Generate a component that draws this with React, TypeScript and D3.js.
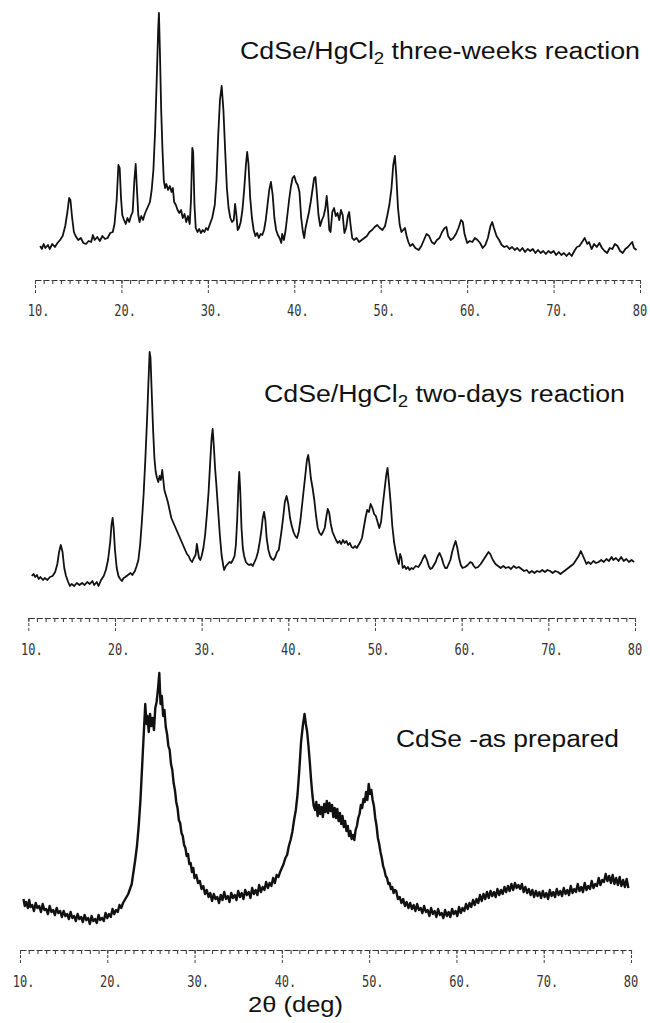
import React, { useRef, useEffect } from "react";
import * as d3 from "d3";

// 2-theta (deg) vs. counts (a.u.)
const threeWeeks: [number, number][] = [
  [10.6, 14], [10.8, 11], [11.0, 16], [11.2, 12], [11.5, 15], [11.7, 11], [12.0, 16], [12.3, 13], [12.6, 17], [12.9, 20],
  [13.2, 24], [13.5, 34], [13.75, 48], [13.95, 62], [14.1, 60], [14.3, 42], [14.5, 28], [14.7, 24], [15.0, 20], [15.3, 22],
  [15.6, 17], [15.9, 16], [16.2, 19], [16.5, 18], [16.7, 25], [16.9, 20], [17.2, 23], [17.5, 19], [17.8, 24], [18.1, 21],
  [18.4, 22], [18.7, 27], [19.0, 28], [19.2, 36], [19.45, 60], [19.65, 95], [19.8, 92], [19.95, 62], [20.1, 45], [20.3, 40],
  [20.5, 36], [20.7, 42], [20.9, 38], [21.1, 44], [21.3, 48], [21.5, 80], [21.65, 96], [21.8, 70], [21.95, 45], [22.1, 38],
  [22.3, 44], [22.5, 40], [22.7, 46], [22.9, 50], [23.1, 54], [23.3, 58], [23.5, 70], [23.7, 90], [23.9, 130], [24.1, 185],
  [24.25, 230], [24.34, 247], [24.45, 210], [24.6, 150], [24.75, 110], [24.9, 80], [25.05, 72], [25.2, 76], [25.4, 70], [25.6, 74],
  [25.8, 68], [25.95, 72], [26.1, 58], [26.3, 55], [26.5, 50], [26.7, 47], [26.9, 50], [27.1, 42], [27.3, 46], [27.5, 38],
  [27.7, 44], [27.9, 36], [28.05, 60], [28.2, 112], [28.3, 108], [28.45, 55], [28.6, 32], [28.8, 28], [29.0, 31], [29.2, 27],
  [29.4, 30], [29.6, 28], [29.8, 32], [30.0, 30], [30.2, 35], [30.5, 42], [30.8, 55], [31.0, 80], [31.2, 125], [31.4, 160],
  [31.6, 174], [31.8, 150], [32.0, 110], [32.2, 72], [32.4, 52], [32.6, 42], [32.8, 38], [33.0, 40], [33.15, 56], [33.3, 45],
  [33.45, 30], [33.6, 32], [33.8, 38], [34.0, 50], [34.2, 70], [34.4, 95], [34.55, 108], [34.7, 96], [34.9, 62], [35.1, 42],
  [35.3, 30], [35.5, 24], [35.7, 27], [35.9, 22], [36.1, 26], [36.3, 25], [36.5, 30], [36.7, 40], [36.9, 55], [37.1, 70],
  [37.3, 78], [37.5, 65], [37.7, 42], [37.9, 30], [38.1, 25], [38.3, 22], [38.5, 17], [38.6, 26], [38.8, 20], [39.0, 30],
  [39.2, 45], [39.4, 60], [39.6, 73], [39.8, 82], [40.0, 84], [40.2, 78], [40.4, 75], [40.6, 68], [40.8, 42], [41.0, 28],
  [41.15, 22], [41.3, 32], [41.5, 40], [41.7, 48], [41.9, 58], [42.1, 70], [42.3, 82], [42.45, 83], [42.6, 68], [42.8, 45],
  [43.0, 34], [43.2, 40], [43.4, 44], [43.6, 52], [43.75, 64], [43.9, 50], [44.05, 30], [44.2, 28], [44.4, 48], [44.6, 52],
  [44.8, 44], [45.0, 47], [45.2, 40], [45.4, 50], [45.6, 45], [45.8, 27], [46.0, 32], [46.2, 44], [46.35, 48], [46.5, 36],
  [46.7, 22], [46.9, 20], [47.2, 22], [47.5, 18], [47.8, 20], [48.1, 22], [48.4, 24], [48.7, 28], [49.0, 30], [49.3, 33],
  [49.6, 35], [49.9, 32], [50.2, 30], [50.5, 34], [50.75, 44], [51.0, 55], [51.25, 72], [51.45, 95], [51.64, 104], [51.8, 85],
  [52.0, 52], [52.2, 35], [52.4, 28], [52.6, 30], [52.8, 32], [53.0, 24], [53.2, 18], [53.4, 14], [53.7, 16], [54.0, 12],
  [54.4, 10], [54.7, 14], [55.0, 20], [55.3, 26], [55.6, 24], [55.9, 18], [56.2, 16], [56.5, 20], [56.8, 22], [57.1, 28],
  [57.4, 32], [57.6, 33], [57.8, 24], [58.1, 20], [58.4, 22], [58.7, 26], [59.0, 32], [59.3, 40], [59.5, 38], [59.7, 26],
  [60.0, 17], [60.3, 19], [60.6, 18], [60.9, 22], [61.2, 20], [61.5, 17], [61.8, 12], [62.1, 15], [62.4, 22], [62.7, 34],
  [62.9, 38], [63.1, 32], [63.4, 24], [63.7, 20], [64.0, 15], [64.3, 13], [64.6, 14], [64.9, 11], [65.2, 13], [65.5, 10],
  [65.8, 12], [66.1, 9], [66.4, 12], [66.7, 8], [67.0, 11], [67.3, 9], [67.6, 11], [67.9, 7], [68.2, 10], [68.5, 7],
  [68.8, 9], [69.1, 6], [69.4, 9], [69.7, 7], [70.0, 9], [70.3, 5], [70.6, 8], [70.9, 5], [71.2, 7], [71.5, 4],
  [71.8, 7], [72.1, 4], [72.4, 9], [72.7, 13], [73.0, 14], [73.3, 18], [73.6, 22], [73.9, 16], [74.1, 18], [74.4, 11],
  [74.7, 16], [75.0, 13], [75.3, 17], [75.6, 12], [75.9, 9], [76.2, 7], [76.5, 12], [76.8, 11], [77.1, 16], [77.4, 14],
  [77.7, 9], [78.0, 7], [78.3, 11], [78.6, 13], [78.9, 16], [79.1, 18], [79.3, 12], [79.6, 10],
];

const twoDays: [number, number][] = [
  [10.4, 14], [10.6, 16], [10.8, 13], [11.0, 15], [11.2, 11], [11.4, 13], [11.7, 10], [11.9, 12], [12.2, 10], [12.5, 13],
  [12.8, 14], [13.1, 18], [13.35, 26], [13.55, 38], [13.75, 45], [13.95, 38], [14.15, 22], [14.35, 14], [14.6, 8], [14.8, 4],
  [15.0, 6], [15.3, 4], [15.6, 7], [15.9, 5], [16.2, 7], [16.5, 5], [16.8, 8], [17.1, 6], [17.4, 9], [17.6, 5],
  [17.9, 8], [18.1, 4], [18.4, 10], [18.7, 14], [18.95, 20], [19.2, 30], [19.45, 48], [19.6, 65], [19.73, 72], [19.85, 62],
  [20.0, 40], [20.2, 22], [20.4, 14], [20.6, 11], [20.8, 9], [21.0, 12], [21.2, 13], [21.5, 15], [21.8, 17], [22.0, 15],
  [22.3, 19], [22.5, 24], [22.7, 30], [22.9, 45], [23.1, 68], [23.3, 95], [23.5, 130], [23.7, 170], [23.85, 205], [24.0, 238],
  [24.1, 232], [24.25, 195], [24.4, 160], [24.55, 132], [24.7, 118], [24.85, 112], [25.0, 108], [25.15, 114], [25.3, 110], [25.45, 120],
  [25.55, 112], [25.7, 100], [25.9, 94], [26.1, 88], [26.3, 80], [26.5, 72], [26.7, 68], [26.9, 64], [27.1, 60], [27.3, 56],
  [27.5, 52], [27.7, 48], [27.9, 44], [28.1, 40], [28.3, 36], [28.5, 34], [28.7, 30], [28.9, 28], [29.1, 32], [29.3, 35],
  [29.45, 46], [29.55, 40], [29.7, 32], [29.85, 30], [30.0, 34], [30.2, 42], [30.4, 55], [30.6, 75], [30.8, 98], [31.0, 130],
  [31.15, 152], [31.27, 161], [31.4, 145], [31.55, 122], [31.7, 105], [31.9, 80], [32.1, 55], [32.3, 35], [32.5, 24], [32.6, 20],
  [32.8, 24], [33.0, 26], [33.2, 28], [33.4, 27], [33.6, 30], [33.8, 34], [33.95, 45], [34.1, 70], [34.25, 105], [34.34, 118],
  [34.45, 100], [34.6, 62], [34.75, 42], [34.9, 34], [35.1, 28], [35.3, 26], [35.5, 25], [35.7, 26], [35.9, 24], [36.1, 28],
  [36.3, 32], [36.5, 38], [36.7, 48], [36.9, 60], [37.05, 72], [37.2, 78], [37.35, 70], [37.5, 52], [37.7, 40], [37.9, 34],
  [38.1, 31], [38.3, 30], [38.5, 33], [38.7, 38], [38.9, 40], [39.0, 46], [39.2, 58], [39.4, 72], [39.6, 88], [39.8, 94],
  [40.0, 86], [40.2, 72], [40.4, 64], [40.6, 58], [40.8, 54], [41.0, 52], [41.2, 58], [41.4, 70], [41.6, 86], [41.8, 102],
  [42.0, 118], [42.15, 130], [42.3, 135], [42.45, 125], [42.6, 112], [42.8, 102], [43.0, 90], [43.2, 74], [43.4, 62], [43.6, 57],
  [43.8, 55], [44.0, 58], [44.2, 62], [44.4, 74], [44.55, 81], [44.7, 78], [44.9, 66], [45.1, 58], [45.3, 54], [45.5, 50],
  [45.7, 47], [45.9, 49], [46.1, 46], [46.3, 50], [46.5, 47], [46.7, 49], [46.9, 45], [47.1, 47], [47.3, 43], [47.5, 42],
  [47.7, 44], [47.9, 42], [48.1, 45], [48.3, 48], [48.5, 52], [48.7, 62], [48.9, 72], [49.1, 80], [49.3, 78], [49.5, 86],
  [49.7, 82], [49.9, 76], [50.1, 74], [50.3, 68], [50.5, 62], [50.7, 68], [50.9, 85], [51.1, 100], [51.3, 115], [51.45, 122],
  [51.6, 108], [51.8, 88], [52.0, 64], [52.2, 48], [52.4, 38], [52.6, 30], [52.75, 26], [52.9, 36], [53.05, 32], [53.2, 22],
  [53.4, 24], [53.6, 21], [53.8, 23], [54.0, 20], [54.2, 22], [54.4, 21], [54.7, 24], [55.0, 23], [55.3, 27], [55.5, 31],
  [55.75, 35], [56.0, 30], [56.2, 24], [56.4, 21], [56.6, 22], [56.8, 25], [57.0, 28], [57.2, 33], [57.45, 37], [57.7, 32],
  [57.9, 26], [58.1, 22], [58.3, 22], [58.5, 26], [58.7, 30], [58.9, 38], [59.1, 44], [59.3, 49], [59.5, 42], [59.7, 32],
  [59.9, 25], [60.1, 22], [60.4, 23], [60.7, 25], [61.0, 28], [61.2, 27], [61.4, 24], [61.6, 22], [61.9, 23], [62.2, 26],
  [62.5, 30], [62.8, 34], [63.1, 38], [63.3, 36], [63.6, 30], [63.9, 26], [64.2, 24], [64.5, 22], [64.8, 24], [65.1, 22],
  [65.4, 23], [65.7, 21], [66.0, 24], [66.3, 22], [66.6, 23], [66.9, 21], [67.2, 19], [67.5, 20], [67.8, 17], [68.1, 19],
  [68.4, 17], [68.7, 19], [69.0, 18], [69.3, 20], [69.6, 18], [69.9, 20], [70.2, 19], [70.5, 17], [70.8, 19], [71.1, 18],
  [71.4, 16], [71.7, 18], [72.0, 20], [72.3, 22], [72.6, 24], [72.9, 26], [73.2, 30], [73.5, 34], [73.75, 39], [74.0, 34],
  [74.2, 30], [74.4, 26], [74.6, 28], [74.9, 26], [75.2, 29], [75.5, 27], [75.8, 28], [76.1, 30], [76.4, 28], [76.7, 31],
  [77.0, 29], [77.3, 33], [77.5, 30], [77.8, 32], [78.1, 29], [78.4, 33], [78.7, 29], [79.0, 31], [79.3, 28], [79.6, 30],
  [79.9, 28],
];

const asPrepared: [number, number][] = [
  [10.4, 31], [10.55, 24], [10.7, 28], [10.9, 22], [11.05, 30], [11.2, 23], [11.4, 25], [11.6, 19], [11.8, 27], [12.0, 22],
  [12.2, 24], [12.4, 18], [12.6, 26], [12.8, 20], [13.0, 21], [13.2, 16], [13.4, 24], [13.6, 18], [13.8, 20], [14.0, 15],
  [14.2, 22], [14.4, 17], [14.6, 19], [14.8, 13], [15.0, 19], [15.2, 14], [15.4, 16], [15.6, 11], [15.8, 18], [16.0, 12],
  [16.2, 14], [16.4, 9], [16.6, 16], [16.8, 11], [17.0, 13], [17.2, 8], [17.4, 15], [17.6, 10], [17.8, 12], [18.0, 6],
  [18.2, 14], [18.4, 9], [18.6, 11], [18.8, 7], [19.0, 15], [19.2, 10], [19.4, 12], [19.6, 9], [19.8, 17], [20.0, 12],
  [20.2, 16], [20.4, 13], [20.6, 21], [20.8, 16], [21.0, 20], [21.2, 18], [21.4, 25], [21.6, 22], [21.8, 27], [22.0, 30],
  [22.2, 33], [22.4, 36], [22.6, 41], [22.8, 46], [23.0, 58], [23.2, 70], [23.4, 84], [23.6, 104], [23.8, 130], [24.0, 165],
  [24.2, 200], [24.35, 226], [24.5, 206], [24.6, 214], [24.75, 198], [24.9, 216], [25.05, 204], [25.2, 212], [25.35, 200], [25.5, 222],
  [25.65, 228], [25.8, 240], [25.96, 257], [26.1, 226], [26.25, 234], [26.4, 214], [26.55, 220], [26.7, 203], [26.85, 196], [27.0, 184],
  [27.15, 180], [27.3, 166], [27.45, 160], [27.6, 147], [27.75, 140], [27.9, 128], [28.05, 122], [28.2, 110], [28.35, 107], [28.5, 97],
  [28.65, 94], [28.8, 85], [28.95, 82], [29.1, 74], [29.25, 76], [29.4, 66], [29.55, 67], [29.7, 58], [29.85, 62], [30.0, 52],
  [30.2, 55], [30.4, 47], [30.6, 49], [30.8, 41], [31.0, 44], [31.2, 36], [31.4, 40], [31.6, 33], [31.8, 37], [32.0, 29],
  [32.2, 36], [32.4, 31], [32.6, 33], [32.8, 27], [33.0, 35], [33.2, 30], [33.4, 38], [33.6, 31], [33.8, 34], [34.0, 28],
  [34.2, 37], [34.4, 32], [34.6, 35], [34.8, 30], [35.0, 39], [35.2, 33], [35.4, 37], [35.6, 31], [35.8, 40], [36.0, 35],
  [36.2, 38], [36.4, 32], [36.6, 42], [36.8, 36], [37.0, 40], [37.2, 35], [37.4, 45], [37.6, 38], [37.8, 43], [38.0, 40],
  [38.2, 48], [38.4, 42], [38.6, 47], [38.8, 44], [39.0, 52], [39.2, 47], [39.4, 55], [39.6, 53], [39.8, 58], [40.0, 62],
  [40.2, 66], [40.4, 72], [40.6, 75], [40.8, 84], [41.0, 90], [41.2, 98], [41.4, 110], [41.6, 120], [41.8, 136], [42.0, 160],
  [42.2, 188], [42.4, 204], [42.6, 216], [42.75, 206], [42.9, 198], [43.05, 184], [43.2, 168], [43.35, 150], [43.5, 135], [43.65, 124],
  [43.8, 120], [43.95, 128], [44.1, 114], [44.25, 125], [44.4, 116], [44.55, 123], [44.7, 113], [44.85, 126], [45.0, 118], [45.15, 129],
  [45.3, 117], [45.45, 127], [45.6, 119], [45.75, 125], [45.9, 113], [46.05, 122], [46.2, 112], [46.35, 121], [46.5, 109], [46.65, 117],
  [46.8, 106], [46.95, 114], [47.1, 103], [47.25, 109], [47.4, 99], [47.55, 104], [47.7, 94], [47.85, 99], [48.0, 91], [48.15, 95],
  [48.3, 90], [48.45, 100], [48.6, 104], [48.75, 112], [48.9, 116], [49.05, 125], [49.2, 122], [49.35, 131], [49.5, 128], [49.65, 138],
  [49.8, 130], [49.95, 146], [50.1, 136], [50.25, 140], [50.4, 130], [50.55, 124], [50.7, 112], [50.85, 104], [51.0, 92], [51.15, 86],
  [51.3, 78], [51.45, 72], [51.6, 64], [51.75, 60], [51.9, 54], [52.05, 52], [52.2, 46], [52.35, 47], [52.5, 41], [52.65, 43],
  [52.8, 37], [52.95, 40], [53.1, 39], [53.3, 31], [53.5, 33], [53.7, 27], [53.9, 31], [54.1, 24], [54.3, 28], [54.5, 22],
  [54.7, 27], [54.9, 21], [55.1, 25], [55.3, 19], [55.5, 26], [55.7, 20], [55.9, 22], [56.1, 17], [56.3, 24], [56.5, 18],
  [56.7, 20], [56.9, 14], [57.1, 22], [57.3, 16], [57.5, 19], [57.7, 13], [57.9, 21], [58.1, 15], [58.3, 17], [58.5, 12],
  [58.7, 20], [58.9, 14], [59.1, 18], [59.3, 13], [59.5, 21], [59.7, 16], [59.9, 19], [60.1, 14], [60.3, 23], [60.5, 17],
  [60.7, 22], [60.9, 19], [61.1, 26], [61.3, 21], [61.5, 27], [61.7, 23], [61.9, 30], [62.1, 25], [62.3, 31], [62.5, 27],
  [62.7, 35], [62.9, 29], [63.1, 36], [63.3, 31], [63.5, 38], [63.7, 32], [63.9, 39], [64.1, 34], [64.3, 38], [64.5, 33],
  [64.7, 41], [64.9, 35], [65.1, 40], [65.3, 36], [65.5, 43], [65.7, 38], [65.9, 44], [66.1, 39], [66.3, 46], [66.5, 40],
  [66.7, 47], [66.9, 42], [67.1, 45], [67.3, 41], [67.5, 46], [67.7, 38], [67.9, 43], [68.1, 37], [68.3, 41], [68.5, 35],
  [68.7, 40], [68.9, 33], [69.1, 39], [69.3, 34], [69.5, 38], [69.7, 32], [69.9, 39], [70.1, 33], [70.3, 37], [70.5, 31],
  [70.7, 40], [70.9, 34], [71.1, 38], [71.3, 33], [71.5, 41], [71.7, 35], [71.9, 39], [72.1, 34], [72.3, 42], [72.5, 36],
  [72.7, 40], [72.9, 35], [73.1, 44], [73.3, 37], [73.5, 41], [73.7, 38], [73.9, 46], [74.1, 39], [74.3, 43], [74.5, 38],
  [74.7, 47], [74.9, 40], [75.1, 44], [75.3, 41], [75.5, 49], [75.7, 42], [75.9, 46], [76.1, 44], [76.3, 52], [76.5, 45],
  [76.7, 50], [76.9, 48], [77.1, 56], [77.3, 49], [77.5, 54], [77.7, 47], [77.9, 55], [78.1, 46], [78.3, 52], [78.5, 45],
  [78.7, 53], [78.9, 44], [79.1, 50], [79.3, 43], [79.5, 51], [79.7, 42],
];

const tickValues = [10, 20, 30, 40, 50, 60, 70, 80];
const tickLabels = ["10.", "20.", "30.", "40.", "50.", "60.", "70.", "80"];

const W = 650;
const H = 1023;
const SANS = "'Liberation Sans', Arial, Helvetica, sans-serif";

const Panel = ({ data, xRange, yMax, yRange, axisY, labelY, strokeW, title }) => {
  const ref = useRef(null);

  const x = d3.scaleLinear().domain([10, 80]).range(xRange);
  const y = d3.scaleLinear().domain([0, yMax]).range(yRange);
  const line = d3.line().x(d => x(d[0])).y(d => y(d[1]));

  useEffect(() => {
    const g = d3.select(ref.current);
    g.selectAll("*").remove();

    // minor ruler: one short tick per degree
    g.append("g")
      .call(d3.axisBottom(x).tickValues(d3.range(10, 81, 1)).tickSize(4).tickSizeOuter(0).tickFormat(() => ""))
      .call(a => a.select(".domain").attr("stroke", "#333").attr("stroke-dasharray", "6 2"))
      .call(a => a.selectAll(".tick line").attr("stroke", "#444").attr("stroke-width", 1.1));

    // major ticks every 10 degrees
    g.append("g")
      .call(d3.axisBottom(x).tickValues(tickValues).tickSize(14).tickFormat(() => ""))
      .call(a => a.select(".domain").remove())
      .call(a => a.selectAll(".tick line").attr("stroke", "#444").attr("stroke-dasharray", "3 2"));
  }, [xRange]);

  return (
    <g>
      <path d={line(data)} fill="none" stroke="#111" strokeWidth={strokeW} strokeLinejoin="round" />
      <g ref={ref} transform={`translate(0,${axisY})`} />
      {tickValues.map((t, i) => (
        <text key={t} transform={`translate(${x(t) - 7.2},${labelY}) scale(0.75,1)`}
          fontFamily="'DejaVu Sans Mono', monospace" fontSize={16} fill="#333">
          {tickLabels[i]}
        </text>
      ))}
      <text x={title.x} y={title.y} fontFamily={SANS} fontSize={23} fill="#111"
        textLength={title.w} lengthAdjust="spacingAndGlyphs">
        {title.sub ? (
          <>
            {title.pre}
            <tspan fontSize={16} dy={5}>{title.sub}</tspan>
            <tspan dy={-5}>{title.post}</tspan>
          </>
        ) : title.pre}
      </text>
    </g>
  );
};

export default function App() {
  return (
    <svg width={W} height={H} style={{ position: "absolute", left: 0, top: 0, background: "#fff" }}>
      <Panel data={threeWeeks} xRange={[35, 640]} yMax={250} yRange={[260, 10]} axisY={280} labelY={316}
        strokeW={1.8}
        title={{ x: 240, y: 59, w: 400, pre: "CdSe/HgCl", sub: "2", post: " three-weeks reaction" }} />
      <Panel data={twoDays} xRange={[28.3, 635]} yMax={240} yRange={[590, 350]} axisY={618} labelY={655}
        strokeW={1.8}
        title={{ x: 264, y: 402, w: 361, pre: "CdSe/HgCl", sub: "2", post: " two-days reaction" }} />
      <Panel data={asPrepared} xRange={[20, 631]} yMax={260} yRange={[930, 670]} axisY={950} labelY={987}
        strokeW={2.4}
        title={{ x: 396, y: 747, w: 223, pre: "CdSe -as prepared" }} />
      <text x={248} y={1012} fontFamily={SANS} fontSize={22} fill="#111" textLength={95} lengthAdjust="spacingAndGlyphs">
        2θ (deg)
      </text>
    </svg>
  );
}
